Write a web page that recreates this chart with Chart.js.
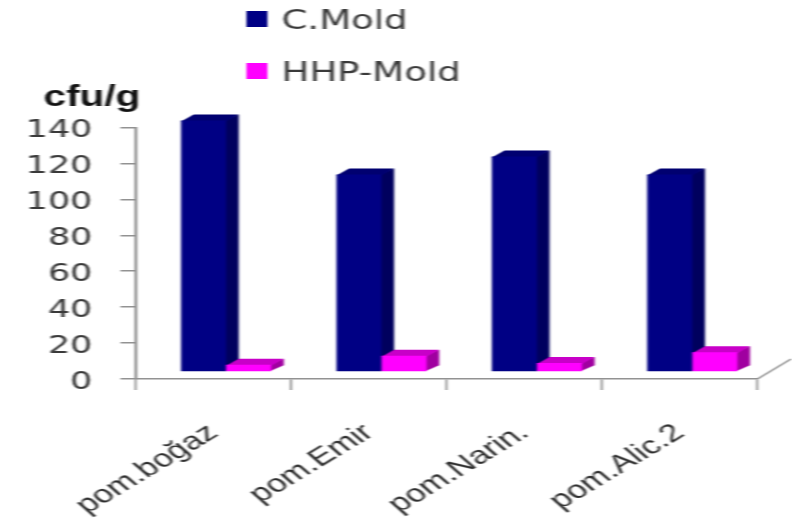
<!DOCTYPE html>
<html>
<head>
<meta charset="utf-8">
<script src="https://cdn.jsdelivr.net/npm/chart.js@4"></script>
<style>
  html, body { margin: 0; padding: 0; background: #fff; overflow: hidden; }
  #c { display: block; transform-origin: 0 0; transform: scale(1.4, 1); filter: blur(0.7px); }
</style>
</head>
<body>
<canvas id="c" width="566" height="531"></canvas>
<script>
const categories = ["pom.boğaz", "pom.Emir", "pom.Narin.", "pom.Alic.2"];
const cMold = [140, 110, 120, 110];
const hhpMold = [4, 9, 5, 11];
const yUnit = "cfu/g";

const textColor = "#3a3a3a";
const axisColor = "#929292";
const faces = {
  "C.Mold": { front: "#000084", side: "#00005e", top: "#000070" },
  "HHP-Mold": { front: "#ff00ff", side: "#a000a0", top: "#c800c8" },
};
const depthX = 9;
const depthY = 6;
const shiftX = 9;
const shiftY = -7;

// bars sit in the middle of the floor, so move them and add the top and side faces.
// drawn by hand so the second series lands on top of the first one
const bars3d = {
  id: "bars3d",
  beforeDatasetsDraw(chart) {
    const ctx = chart.ctx;
    chart.data.datasets.forEach((ds, i) => {
      const meta = chart.getDatasetMeta(i);
      const colors = faces[ds.label];
      ctx.save();
      ctx.translate(shiftX, shiftY);
      meta.data.forEach((bar) => {
        const { x, y, base, width } = bar.getProps(["x", "y", "base", "width"], true);
        const r = x + width / 2;
        const l = x - width / 2;
        ctx.fillStyle = colors.side;
        ctx.beginPath();
        ctx.moveTo(r - 1, y);
        ctx.lineTo(r + depthX, y - depthY);
        ctx.lineTo(r + depthX, base - depthY);
        ctx.lineTo(r - 1, base);
        ctx.fill();
        ctx.fillStyle = colors.top;
        ctx.beginPath();
        ctx.moveTo(l, y + 1);
        ctx.lineTo(l + depthX, y - depthY);
        ctx.lineTo(r + depthX, y - depthY);
        ctx.lineTo(r, y + 1);
        ctx.fill();
      });
      meta.controller.draw();
      ctx.restore();
    });
    return false;
  },
  afterDraw(chart) {
    const ctx = chart.ctx;
    const area = chart.chartArea;
    ctx.save();
    // floor edge on the right
    ctx.strokeStyle = axisColor;
    ctx.lineWidth = 1.5;
    ctx.beginPath();
    ctx.moveTo(area.right, area.bottom);
    ctx.lineTo(area.right + 24, area.bottom - 20);
    ctx.stroke();
    // legend, one row per series
    ctx.textBaseline = "middle";
    ctx.textAlign = "left";
    ctx.font = "26.5px 'DejaVu Sans'";
    chart.data.datasets.forEach((ds, i) => {
      const rowY = 19 + i * 52;
      ctx.fillStyle = faces[ds.label].front;
      ctx.fillRect(176, rowY - 8, 15, 16);
      ctx.fillStyle = textColor;
      ctx.fillText(ds.label, 201, rowY + 3);
    });
    // unit above the y axis
    ctx.fillStyle = "#111";
    ctx.font = "bold 29px 'Liberation Sans'";
    ctx.fillText(yUnit, 31, 98);
    ctx.restore();
  },
};

new Chart(document.getElementById("c"), {
  type: "bar",
  data: {
    labels: categories,
    datasets: [
      { label: "C.Mold", data: cMold, backgroundColor: faces["C.Mold"].front, clip: false },
      { label: "HHP-Mold", data: hhpMold, backgroundColor: faces["HHP-Mold"].front, clip: false },
    ],
  },
  options: {
    responsive: false,
    animation: false,
    layout: { padding: { top: 127.5, right: 25, left: 0, bottom: 0 } },
    datasets: { bar: { categoryPercentage: 0.58, barPercentage: 1 } },
    plugins: { legend: { display: false }, tooltip: { enabled: false } },
    scales: {
      x: {
        afterFit: (s) => { s.height = 152; },
        grid: { drawOnChartArea: false, color: axisColor, tickLength: 11, lineWidth: 1.5 },
        border: { color: axisColor, width: 1.5 },
        ticks: {
          autoSkip: false,
          maxRotation: 40,
          minRotation: 40,
          padding: 28,
          color: "#2e2e2e",
          font: { family: "Liberation Sans", size: 25 },
        },
      },
      y: {
        min: 0,
        max: 140,
        afterFit: (s) => { s.width = 97; },
        grid: { drawOnChartArea: false, color: axisColor, tickLength: 11, lineWidth: 1.5 },
        border: { color: axisColor, width: 2 },
        ticks: {
          stepSize: 20,
          padding: 20,
          labelOffset: 3,
          color: textColor,
          font: { family: "DejaVu Sans", size: 25 },
        },
      },
    },
  },
  plugins: [bars3d],
});
</script>
</body>
</html>
